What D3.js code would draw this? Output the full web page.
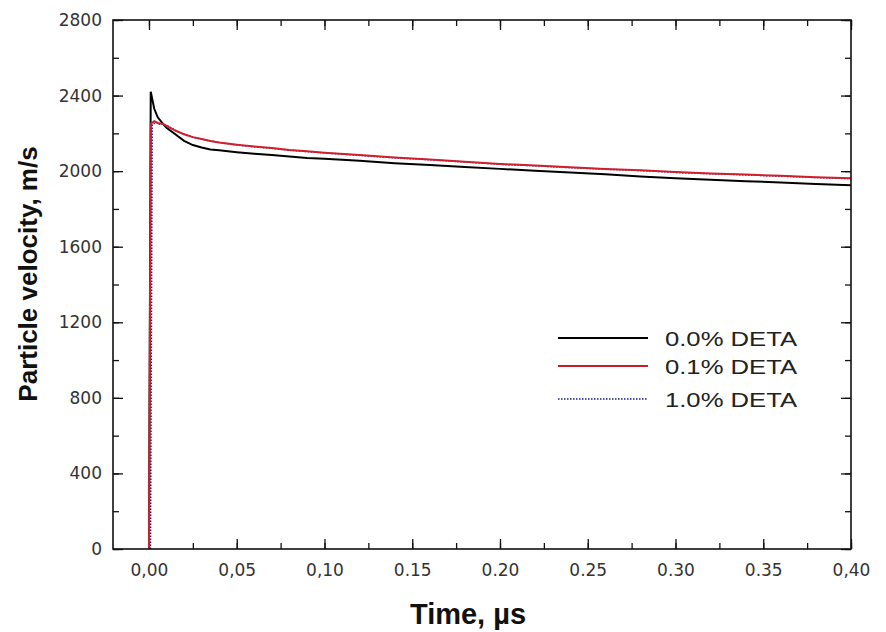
<!DOCTYPE html>
<html><head><meta charset="utf-8">
<script src="https://cdn.jsdelivr.net/npm/d3@7/dist/d3.min.js"></script>
<style>body{margin:0;background:#fff}svg{display:block}</style>
</head><body><svg id="c" width="886" height="632"></svg>
<script>
const times = [0.000,0.001,0.003,0.005,0.008,0.010,0.015,0.020,0.025,0.030,0.035,0.040,0.050,0.060,0.070,0.080,0.090,0.100,0.120,0.140,0.160,0.180,0.200,0.220,0.240,0.260,0.280,0.300,0.320,0.340,0.360,0.380,0.400];
const deta00 = [0,2420,2330,2285,2250,2230,2195,2160,2138,2125,2115,2110,2100,2092,2085,2078,2070,2065,2055,2042,2032,2022,2012,2002,1993,1983,1972,1962,1955,1947,1940,1932,1925];
const deta01 = [0,2250,2265,2255,2250,2240,2215,2195,2180,2170,2160,2152,2140,2130,2122,2112,2105,2098,2085,2072,2062,2050,2038,2030,2020,2012,2005,1995,1988,1982,1975,1968,1962];
const deta10 = [0,2245,2260,2250,2248,2238,2212,2192,2178,2168,2158,2150,2138,2128,2120,2110,2103,2096,2083,2070,2060,2048,2036,2028,2018,2010,2003,1993,1986,1980,1973,1966,1960];
const seriesNames = ["0.0% DETA","0.1% DETA","1.0% DETA"];
const xTickValues = [0,0.05,0.10,0.15,0.20,0.25,0.30,0.35,0.40];
const xTickLabels = ["0,00","0,05","0,10","0.15","0.20","0.25","0.30","0.35","0,40"];
const yTickValues = [0,400,800,1200,1600,2000,2400,2800];

const svg = d3.select("#c");
const L=113,R=851,T=20,B=549;
const x = d3.scaleLinear().domain([-0.0205,0.40]).range([L,R]);
const y = d3.scaleLinear().domain([0,2800]).range([B,T]);

const xMinor = d3.range(0,0.40001,0.025);
const yMinor = d3.range(0,2800.1,200);

const tickCol="#111";
function axis(g, ax){ g.call(ax); g.select(".domain").remove(); g.selectAll("line").attr("stroke",tickCol).attr("stroke-width",1.3); }

svg.append("g").attr("transform",`translate(0,${B})`).call(g=>axis(g,d3.axisTop(x).tickValues(xMinor).tickSize(6).tickFormat("")));
svg.append("g").attr("transform",`translate(0,${T})`).call(g=>axis(g,d3.axisBottom(x).tickValues(xMinor).tickSize(6).tickFormat("")));
svg.append("g").attr("transform",`translate(${L},0)`).call(g=>axis(g,d3.axisRight(y).tickValues(yMinor).tickSize(6).tickFormat("")));
svg.append("g").attr("transform",`translate(${R},0)`).call(g=>axis(g,d3.axisLeft(y).tickValues(yMinor).tickSize(6).tickFormat("")));
svg.append("g").attr("transform",`translate(0,${B})`).call(g=>axis(g,d3.axisTop(x).tickValues(xTickValues).tickSize(10).tickFormat("")));
svg.append("g").attr("transform",`translate(0,${T})`).call(g=>axis(g,d3.axisBottom(x).tickValues(xTickValues).tickSize(10).tickFormat("")));
svg.append("g").attr("transform",`translate(${L},0)`).call(g=>axis(g,d3.axisRight(y).tickValues(yTickValues).tickSize(10).tickFormat("")));
svg.append("g").attr("transform",`translate(${R},0)`).call(g=>axis(g,d3.axisLeft(y).tickValues(yTickValues).tickSize(10).tickFormat("")));

const tf = "DejaVu Sans, sans-serif";
const xl = svg.append("g").attr("transform",`translate(0,${B})`).call(d3.axisBottom(x).tickValues(xTickValues).tickSize(0).tickPadding(15).tickFormat((d,i)=>xTickLabels[i]));
xl.select(".domain").remove();
xl.selectAll("text").attr("font-family",tf).attr("font-size",17).attr("fill","#333");
const yl = svg.append("g").attr("transform",`translate(${L},0)`).call(d3.axisLeft(y).tickValues(yTickValues).tickSize(0).tickPadding(11).tickFormat(d3.format("d")));
yl.select(".domain").remove();
yl.selectAll("text").attr("font-family",tf).attr("font-size",17).attr("fill","#333");

svg.append("clipPath").attr("id","pc").append("rect").attr("x",L).attr("y",T).attr("width",R-L).attr("height",B-T);
const line = arr => d3.line().x((d,i)=>x(times[i])).y(d=>y(d))(arr);
const pg = svg.append("g").attr("clip-path","url(#pc)");
pg.append("path").attr("d",line(deta10)).attr("fill","none").attr("stroke","#1a1a8c").attr("stroke-width",1.5).attr("stroke-dasharray","1.5,1.5").attr("transform","translate(1.5,0)");
pg.append("path").attr("d",line(deta00)).attr("fill","none").attr("stroke","#000").attr("stroke-width",2);
pg.append("path").attr("d",line(deta01)).attr("fill","none").attr("stroke","#d0202e").attr("stroke-width",2);

svg.append("rect").attr("x",L).attr("y",T).attr("width",R-L).attr("height",B-T).attr("fill","none").attr("stroke","#111").attr("stroke-width",1.6);

const legY=[338,366,399], legCol=["#000","#c0202e","#1a1a8c"], legDash=[null,null,"1.5,1.5"];
seriesNames.forEach((n,i)=>{
  svg.append("line").attr("x1",558).attr("x2",648).attr("y1",legY[i]).attr("y2",legY[i]).attr("stroke",legCol[i]).attr("stroke-width",i==2?1.5:2).attr("stroke-dasharray",legDash[i]);
  svg.append("text").attr("x",665).attr("y",legY[i]+7.5).text(n).attr("font-family","Liberation Sans, Arial, sans-serif").attr("font-size",21).attr("textLength",132).attr("lengthAdjust","spacingAndGlyphs").attr("fill","#222");
});

svg.append("text").attr("x",468).attr("y",624).attr("text-anchor","middle").attr("font-family","Liberation Sans, Arial, sans-serif").attr("font-weight","bold").attr("font-size",29).attr("fill","#111").text("Time, µs");
svg.append("text").attr("transform","translate(37,274) rotate(-90)").attr("text-anchor","middle").attr("font-family","Liberation Sans, Arial, sans-serif").attr("font-weight","bold").attr("font-size",26).attr("fill","#111").text("Particle velocity, m/s");
</script></body></html>
